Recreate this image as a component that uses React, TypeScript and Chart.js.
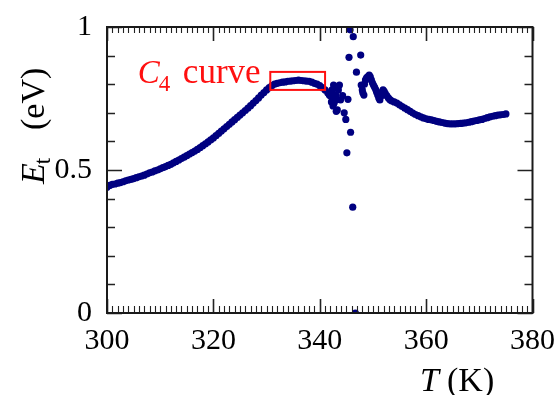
import React, { useEffect, useRef } from "react";
import { Chart, registerables } from "chart.js";

Chart.register(...registerables);

// Smooth rising branch (T in K, E_t in eV)
const risingT = [
  300, 300.5, 301, 301.5, 302, 302.5, 303, 303.5, 304, 304.5,
  305, 305.5, 306, 306.5, 307, 307.5, 308, 308.5, 309, 309.5,
  310, 310.5, 311, 311.5, 312, 312.5, 313, 313.5, 314, 314.5,
  315, 315.5, 316, 316.5, 317, 317.5, 318, 318.5, 319, 319.5,
  320, 320.5, 321, 321.5, 322, 322.5, 323, 323.5, 324, 324.5,
  325, 325.5, 326, 326.5, 327, 327.5, 328, 328.5, 329, 329.5,
  330, 330.5, 331, 331.5, 332, 332.5, 333, 333.5, 334, 334.5,
  335, 335.5, 336, 336.5, 337, 337.5, 338, 338.5, 339, 339.5,
  340, 340.5, 341, 341.5, 342, 342.5,
];
const risingE = [
  0.44, 0.446, 0.45, 0.451, 0.454, 0.456, 0.459, 0.462, 0.465, 0.467,
  0.47, 0.473, 0.476, 0.479, 0.482, 0.486, 0.49, 0.493, 0.497, 0.5,
  0.504, 0.508, 0.512, 0.516, 0.52, 0.525, 0.53, 0.535, 0.54, 0.545,
  0.55, 0.556, 0.561, 0.566, 0.572, 0.578, 0.585, 0.591, 0.598, 0.605,
  0.612, 0.62, 0.628, 0.636, 0.644, 0.652, 0.66, 0.668, 0.676, 0.684,
  0.692, 0.7, 0.708, 0.716, 0.725, 0.734, 0.743, 0.752, 0.762, 0.771,
  0.78, 0.788, 0.795, 0.8, 0.803, 0.805, 0.807, 0.808, 0.81, 0.811,
  0.812, 0.813, 0.814, 0.813, 0.812, 0.811, 0.81, 0.807, 0.803, 0.8,
  0.795, 0.788, 0.78, 0.77, 0.76, 0.75,
];

// Scattered points around the anomaly
const anomalyT = [
  342.3, 342.5, 342.7, 342.6, 342.3, 343.0, 343.1, 343.9, 343.3, 343.1,
  343.5, 343.7, 344.3, 344.6, 344.9, 345.3, 345.8, 345.1, 346.2, 346.7,
  345.7, 346.3, 345.5, 347.7, 346.9, 341.8, 342.4, 342.2,
];
const anomalyE = [
  0.755, 0.724, 0.734, 0.797, 0.78, 0.762, 0.745, 0.745, 0.71, 0.705,
  0.78, 0.797, 0.76, 0.7, 0.677, 0.747, 0.632, 0.56, 0.37, 0.0,
  0.99, 0.966, 0.894, 0.902, 0.842, 0.762, 0.745, 0.738,
];

// Recovery cluster after the anomaly
const recoveryT = [
  347.8, 348.0, 348.1, 348.3, 348.4, 348.6, 348.8, 349.0, 349.3, 349.5,
  349.7, 349.9, 350.1, 350.3, 350.5, 350.7, 350.9, 351.1, 351.3, 351.5,
  351.7, 351.9, 352.1, 352.3, 352.6, 352.9, 353.2,
];
const recoveryE = [
  0.797, 0.78, 0.77, 0.762, 0.8, 0.815, 0.822, 0.826, 0.832, 0.826,
  0.815, 0.805, 0.797, 0.79, 0.782, 0.772, 0.762, 0.752, 0.745, 0.758,
  0.772, 0.78, 0.775, 0.768, 0.76, 0.752, 0.746,
];

// Smooth tail
const tailT = [
  353.5, 354, 354.5, 355, 355.5, 356, 356.5, 357, 357.5, 358,
  358.5, 359, 359.5, 360, 360.5, 361, 361.5, 362, 362.5, 363,
  363.5, 364, 364.5, 365, 365.5, 366, 366.5, 367, 367.5, 368,
  368.5, 369, 369.5, 370, 370.5, 371, 371.5, 372, 372.5, 373,
  373.5, 374, 374.5, 375,
];
const tailE = [
  0.742, 0.738, 0.734, 0.728, 0.722, 0.716, 0.711, 0.705, 0.699, 0.694,
  0.69, 0.686, 0.682, 0.679, 0.677, 0.675, 0.673, 0.67, 0.668, 0.666,
  0.664, 0.662, 0.661, 0.661, 0.661, 0.662, 0.663, 0.664, 0.665, 0.667,
  0.669, 0.671, 0.673, 0.675, 0.677, 0.68, 0.683, 0.686, 0.688, 0.69,
  0.692, 0.693, 0.694, 0.696,
];

const xTickValues = [300, 320, 340, 360, 380];
const yTickValues = [0, 0.5, 1];
const yTickLabels = ["0", "0.5", "1"];

// Highlighted C4 region
const boxT = [330.7, 341.0];
const boxE = [0.78, 0.843];
const labelAt = { t: 305.8, e: 0.805 };

const SERIF = "'Liberation Serif'";

function pairs(ts: number[], es: number[]) {
  return ts.map((t, i) => ({ x: t, y: es[i] }));
}

function fontStr(size: number, italic: boolean) {
  return (italic ? "italic " : "") + size + "px " + SERIF;
}

const decorPlugin = {
  id: "decor",
  afterDraw(chart: any) {
    const ctx = chart.ctx as CanvasRenderingContext2D;
    const { left, right, top, bottom } = chart.chartArea;
    const xs = chart.scales.x;
    const ys = chart.scales.y;
    ctx.save();
    // ticks
    ctx.strokeStyle = "#222";
    for (let t = 300; t <= 380; t += 1) {
      const px = Math.round(xs.getPixelForValue(t)) + 0.5;
      const major = t % 20 === 0;
      ctx.lineWidth = major ? 1.6 : 1.1;
      const lb = major ? 14 : 7;
      const lt = major ? 14 : 6;
      ctx.beginPath();
      ctx.moveTo(px, bottom);
      ctx.lineTo(px, bottom - lb);
      ctx.moveTo(px, top);
      ctx.lineTo(px, top + lt);
      ctx.stroke();
    }
    for (let k = 0; k <= 10; k++) {
      const v = k / 10;
      const py = Math.round(ys.getPixelForValue(v)) + 0.5;
      const major = k % 5 === 0;
      ctx.lineWidth = major ? 1.6 : 1.3;
      const l = major ? 15 : 8;
      ctx.beginPath();
      ctx.moveTo(left, py);
      ctx.lineTo(left + l, py);
      ctx.moveTo(right, py);
      ctx.lineTo(right - l, py);
      ctx.stroke();
    }
    // frame
    ctx.lineWidth = 2;
    ctx.strokeStyle = "#1a1a1a";
    ctx.strokeRect(left, top, right - left, bottom - top);

    // red box
    const bx0 = xs.getPixelForValue(boxT[0]);
    const bx1 = xs.getPixelForValue(boxT[1]);
    const by0 = ys.getPixelForValue(boxE[1]);
    const by1 = ys.getPixelForValue(boxE[0]);
    ctx.strokeStyle = "#ff1010";
    ctx.lineWidth = 2;
    ctx.strokeRect(bx0, by0, bx1 - bx0, by1 - by0);

    // C4 curve label
    const lx = xs.getPixelForValue(labelAt.t);
    const ly = ys.getPixelForValue(labelAt.e);
    ctx.fillStyle = "#ff1010";
    ctx.textBaseline = "alphabetic";
    ctx.textAlign = "left";
    ctx.font = fontStr(33, true);
    ctx.fillText("C", lx, ly);
    const cw = ctx.measureText("C").width;
    ctx.font = fontStr(23, false);
    ctx.fillText("4", lx + cw - 1, ly + 8);
    ctx.font = fontStr(35, false);
    ctx.fillText("curve", lx + 45, ly);

    // Y title (rotated)
    ctx.fillStyle = "#000";
    ctx.save();
    ctx.translate(44, 184);
    ctx.rotate(-Math.PI / 2);
    ctx.font = fontStr(34, true);
    ctx.fillText("E", 0, 0);
    const ew = ctx.measureText("E").width;
    ctx.font = fontStr(23, false);
    ctx.fillText("t", ew - 1, 6);
    ctx.font = fontStr(34, false);
    ctx.fillText("(eV)", 54, 0);
    ctx.restore();

    // X title
    ctx.font = fontStr(34, true);
    ctx.fillText("T", 420, 391);
    ctx.font = fontStr(34, false);
    ctx.fillText("(K)", 447, 391);
    ctx.restore();
  },
};

export default function App() {
  const ref = useRef<HTMLCanvasElement | null>(null);
  useEffect(() => {
    if (!ref.current) return;
    let chart: Chart | null = null;
    let cancelled = false;
    const build = () => {
      if (cancelled || !ref.current) return;
      const data = [
        ...pairs(risingT, risingE),
        ...pairs(anomalyT, anomalyE),
        ...pairs(recoveryT, recoveryE),
        ...pairs(tailT, tailE),
      ];
      chart = new Chart(ref.current, {
        type: "scatter",
        data: {
          datasets: [
            {
              data,
              pointRadius: 3.6,
              pointBackgroundColor: "#000080",
              pointBorderWidth: 0,
              showLine: false,
            },
          ],
        },
        options: {
          animation: false,
          responsive: false,
          events: [],
          layout: { padding: { top: 27, right: 23, left: 0, bottom: 0 } },
          plugins: { legend: { display: false }, tooltip: { enabled: false } },
          scales: {
            x: {
              type: "linear",
              min: 300,
              max: 380,
              afterBuildTicks: (s: any) => {
                s.ticks = xTickValues.map((v) => ({ value: v }));
              },
              ticks: {
                color: "#000",
                padding: 2,
                maxRotation: 0,
                font: { family: SERIF, size: 30 },
                callback: (v: any) => String(v),
              },
              grid: { display: false },
              border: { display: false },
              afterFit: (s: any) => {
                s.height = 82;
              },
            },
            y: {
              type: "linear",
              min: 0,
              max: 1,
              afterBuildTicks: (s: any) => {
                s.ticks = yTickValues.map((v) => ({ value: v }));
              },
              ticks: {
                color: "#000",
                padding: 7,
                font: { family: SERIF, size: 30 },
                callback: (v: any) => {
                  const i = yTickValues.indexOf(Number(v));
                  return i >= 0 ? yTickLabels[i] : String(v);
                },
              },
              grid: { display: false },
              border: { display: false },
              afterFit: (s: any) => {
                s.width = 107;
              },
            },
          },
        },
        plugins: [decorPlugin],
      });
    };
    const fontsApi = (document as any).fonts;
    if (fontsApi && fontsApi.load) {
      Promise.all([
        fontsApi.load("30px 'Liberation Serif'"),
        fontsApi.load("italic 30px 'Liberation Serif'"),
      ])
        .catch(() => null)
        .then(build);
    } else {
      build();
    }
    return () => {
      cancelled = true;
      if (chart) chart.destroy();
    };
  }, []);
  return (
    <div style={{ position: "absolute", left: 0, top: 0, width: 557, height: 395, background: "#fff" }}>
      <canvas ref={ref} width={557} height={395} />
    </div>
  );
}
